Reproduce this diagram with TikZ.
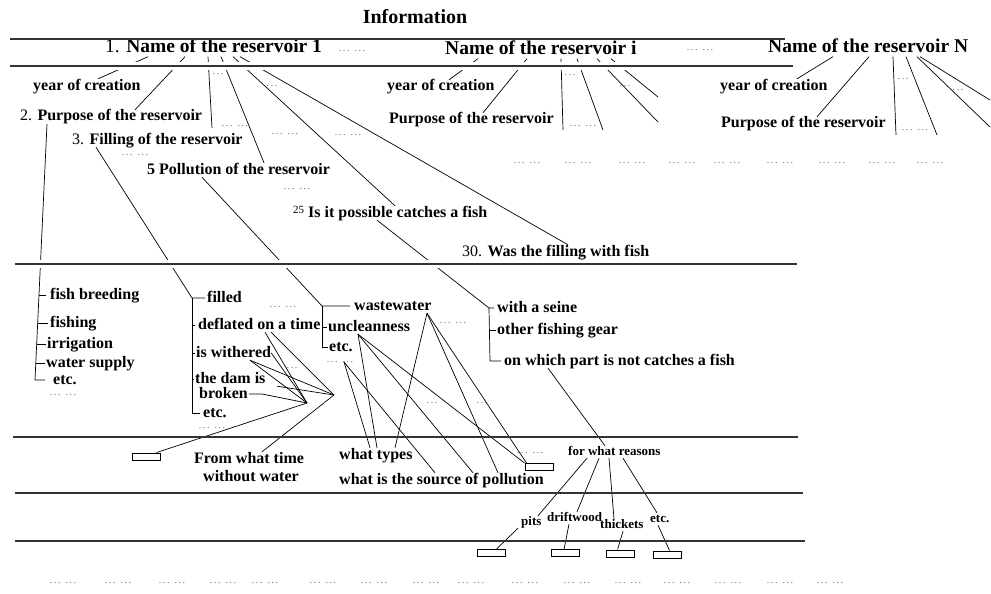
\documentclass[tikz,border=0pt]{standalone}
\usepackage{fontspec}
\setmainfont{Liberation Serif}
\newcommand{\tdot}{.\kern1.6pt.\kern1.6pt.}
\newcommand{\ttdot}{\tdot\kern5pt\tdot}
\begin{document}
\begin{tikzpicture}[x=1pt,y=-1pt,
  lab/.style={font=\fontsize{16}{18}\selectfont\bfseries, inner sep=0pt, anchor=west, text height=11pt, text depth=3pt},
  head/.style={font=\fontsize{19.5}{22}\selectfont\bfseries, inner sep=0pt, anchor=west, text height=13pt, text depth=4pt},
  sm/.style={font=\fontsize{13}{15}\selectfont\bfseries, inner sep=0pt, anchor=west, text height=9pt, text depth=3pt},
  dt/.style={font=\fontsize{10}{10}\selectfont, text=black!60, inner sep=0pt},
  rule/.style={line width=1.1pt, draw=black!80},
  con/.style={line width=0.7pt},
  box/.style={draw, line width=0.9pt, minimum width=28pt, minimum height=7pt, inner sep=0pt}]
\useasboundingbox (0,0) rectangle (991,594);
\fill[white] (0,0) rectangle (991,594);

% headings
\node[head, anchor=center, font=\fontsize{20}{22}\selectfont\bfseries] (info) at (415,19) {Information};
\node[head] (n1) at (105,48) {{\mdseries 1.} Name of the reservoir 1};
\node[head] (ni) at (445,50) {Name of the reservoir i};
\node[head] (nN) at (768,48) {Name of the reservoir N};

% second level
\node[lab] (yc1) at (33,86) {year of creation};
\node[lab] (p1) at (20,117) {{\mdseries 2.} Purpose of the reservoir};
\node[lab] (f1) at (72,140) {{\mdseries 3.} Filling of the reservoir};
\node[lab] (pol1) at (147,170) {5 Pollution of the reservoir};
\node[lab] (fish25) at (293,213) {{\mdseries\fontsize{11}{11}\selectfont\raisebox{4pt}{25}}\kern4pt Is it possible catches a fish};
\node[lab] (w30) at (462,252) {{\mdseries 30.} Was the filling with fish};
\node[lab] (yci) at (387,87) {year of creation};
\node[lab] (pi) at (389,120) {Purpose of the reservoir};
\node[lab] (ycN) at (720,86) {year of creation};
\node[lab] (pN) at (721,124) {Purpose of the reservoir};

% third level
\node[lab] (fb) at (50,295) {fish breeding};
\node[lab] (fsh) at (50,323) {fishing};
\node[lab] (irr) at (47,344) {irrigation};
\node[lab] (ws) at (46,363) {water supply};
\node[lab] (etc1) at (53,380) {etc.};
\node[lab] (filled) at (207,298) {filled};
\node[lab] (defl) at (198,325) {deflated on a time};
\node[lab] (withered) at (196,353) {is withered};
\node[lab] (dam) at (195,379) {the dam is};
\node[lab] (broken) at (199,394) {broken};
\node[lab] (etc2) at (203,413) {etc.};
\node[lab] (wastew) at (354,306) {wastewater};
\node[lab] (uncl) at (328,327) {uncleanness};
\node[lab] (etc3) at (329,347) {etc.};
\node[lab] (seine) at (497,308) {with a seine};
\node[lab] (gear) at (497,330) {other fishing gear};
\node[lab] (onwhich) at (504,361) {on which part is not catches a fish};

% fourth level
\node[lab, anchor=center] (from1) at (249,459) {From what time};
\node[lab, anchor=center] (from2) at (251,477) {without water};
\node[lab] (types) at (339,455) {what types};
\node[lab] (source) at (339,480) {what is the source of pollution};
\node[sm] (reasons) at (568,452) {for what reasons};
\node[sm] (pits) at (521,522) {pits};
\node[sm] (drift) at (547,518) {driftwood};
\node[sm] (thick) at (600,525) {thickets};
\node[sm] (etc4) at (650,519) {etc.};

% boxes
\node[box] (R0) at (146,456.5) {};
\node[box] (R1) at (539,467) {};
\node[box] (R2) at (491,553) {};
\node[box] (R3) at (565.5,553) {};
\node[box] (R4) at (620,553.5) {};
\node[box] (R5) at (667,554.5) {};

% dots
\node[dt] (dA) at (352,51) {\ttdot};
\node[dt] (dB) at (700,50) {\ttdot};
\node[dt] (dC) at (218,74) {\tdot};
\node[dt] (dD) at (235,126) {\ttdot};
\node[dt] (dE) at (272,86) {\tdot};
\node[dt] (dF) at (285,134) {\ttdot};
\node[dt] (dG) at (348,135) {\ttdot};
\node[dt] (dH) at (135,155) {\ttdot};
\node[dt] (dI) at (297,189) {\ttdot};
\node[dt] (dJ) at (570,75) {\tdot};
\node[dt] (dK) at (583,126) {\ttdot};
\node[dt] (dL) at (625,86) {\tdot};
\node[dt] (dM) at (903,79) {\tdot};
\node[dt] (dN) at (915,130) {\ttdot};
\node[dt] (dO) at (958,90) {\tdot};
\foreach \x [count=\i] in {527,578,632,682,727,780,832,882,930}
  \node[dt] (row\i) at (\x,163) {\ttdot};
\node[dt] (dP) at (63,395) {\ttdot};
\node[dt] (dQ) at (283,307) {\ttdot};
\node[dt] (dR) at (292,368) {\tdot};
\node[dt] (dS) at (212,428) {\ttdot};
\node[dt] (de) at (340,362) {\ttdot};
\node[dt] (dT) at (453,323) {\ttdot};
\node[dt] (dU) at (432,403) {\tdot};
\node[dt] (dV) at (482,403) {\tdot};
\node[dt] (dW) at (530,453) {\ttdot};
\foreach \x [count=\i] in {63,118,172,223,265,323,374,426,471,525,577,628,677,728,780,830}
  \node[dt] (bot\i) at (\x,583) {\ttdot};

% named free ends and junctions
\coordinate (v1) at (212,128);
\coordinate (vi1) at (563,130);
\coordinate (vi2) at (603,130);
\coordinate (vi3) at (658,122);
\coordinate (vi4) at (658,97);
\coordinate (vN1) at (896,135);
\coordinate (vN2) at (937,135);
\coordinate (vN3) at (990,127);
\coordinate (vN4) at (990,100);
\coordinate (c1) at (35,380);
\coordinate (P1) at (334,395);
\coordinate (P2) at (307,403);
\coordinate (W) at ([xshift=73pt]wastew.south west);
\coordinate (U) at ([xshift=30pt]uncl.south west);
\coordinate (E) at ([xshift=4pt]de.center);

% reservoir 1
\draw[con] ([xshift=43pt]n1.south west) -- ([xshift=65pt]yc1.north west);
\draw[con] ([xshift=80pt]n1.south west) -- ([xshift=115pt]p1.north west);
\draw[con] ([xshift=103pt]n1.south west) -- (v1);
\draw[con] ([xshift=116pt]n1.south west) -- ([xshift=117pt]pol1.north west);
\draw[con] ([xshift=128pt]n1.south west) -- ([xshift=102pt]fish25.north west);
\draw[con] ([xshift=135pt]n1.south west) -- ([xshift=106pt]w30.north west);
% reservoir i
\draw[con] ([xshift=33pt]ni.south west) -- ([xshift=62pt]yci.north west);
\draw[con] ([xshift=82pt]ni.south west) -- ([xshift=94pt]pi.north west);
\draw[con] ([xshift=116pt]ni.south west) -- (vi1);
\draw[con] ([xshift=132pt]ni.south west) -- (vi2);
\draw[con] ([xshift=152pt]ni.south west) -- (vi3);
\draw[con] ([xshift=166pt]ni.south west) -- (vi4);
% reservoir N
\draw[con] ([xshift=65pt]nN.south west) -- ([xshift=77pt]ycN.north west);
\draw[con] ([xshift=101pt]nN.south west) -- ([xshift=96pt]pN.north west);
\draw[con] ([xshift=125pt]nN.south west) -- (vN1);
\draw[con] ([xshift=138pt]nN.south west) -- (vN2);
\draw[con] ([xshift=149pt]nN.south west) -- (vN3);
\draw[con] ([xshift=152pt]nN.south west) -- (vN4);

% purpose bracket
\draw[con] ([xshift=27pt]p1.south west) -- (c1) -- ([xshift=-8pt]etc1.west);
\draw[con] ([xshift=-11pt]fb.west) -- ([xshift=-4pt]fb.west);
\draw[con] ([xshift=-12pt]fsh.west) -- ([xshift=-2pt]fsh.west);
\draw[con] ([xshift=-10pt]irr.west) -- ([xshift=-1pt]irr.west);
\draw[con] ([xshift=-10pt]ws.west) -- ([xshift=-1pt]ws.west);

% filling bracket
\draw[con] ([xshift=24pt]f1.south west) -- ([xshift=-15pt]filled.west) -- ([xshift=-2pt]filled.west);
\draw[con] ([xshift=-15pt]filled.west) -- ([xshift=-11pt]etc2.west) -- ([xshift=-3pt]etc2.west);
\draw[con] ([xshift=-6pt]defl.west) -- ([xshift=-3pt]defl.west);
\draw[con] ([xshift=-4pt]withered.west) -- ([xshift=-1pt]withered.west);
\draw[con] ([xshift=-3pt]dam.west) -- ([xshift=-1pt]dam.west);
\draw[con] ([xshift=1pt]broken.east) -- ([xshift=14pt]broken.east) -- (P2);
\draw[con] ([xshift=67pt]defl.south west) -- (P2);
\draw[con] ([xshift=73pt]defl.south west) -- (P1);
\draw[con] ([xshift=54pt]withered.south west) -- (P1);
\draw[con] ([xshift=54pt]withered.south west) -- (P2);
\draw[con] (withered.east) -- (P2);
\draw[con] ([xshift=82pt]dam.south west) -- (P1);
\draw[con] (P1) -- ([xshift=13pt]from1.north);
\draw[con] (P2) -- ([xshift=-4pt]R0.north east);

% pollution bracket
\draw[con] ([xshift=55pt]pol1.south west) -- ([xshift=-32pt]wastew.west) -- ([xshift=-4pt]wastew.west);
\draw[con] ([xshift=-32pt]wastew.west) -- ([xshift=-7pt]etc3.west) -- ([xshift=-1pt]etc3.west);
\draw[con] ([xshift=-6pt]uncl.west) -- ([xshift=-1pt]uncl.west);
\draw[con] (E) -- ([xshift=31pt]types.north west);
\draw[con] (U) -- ([xshift=38pt]types.north west);
\draw[con] (W) -- ([xshift=56pt]types.north west);
\draw[con] (E) -- ([xshift=96pt]source.north west);
\draw[con] (U) -- ([xshift=134pt]source.north west);
\draw[con] (W) -- ([xshift=159pt]source.north west);
\draw[con] (U) -- (R1.north west);
\draw[con] (W) -- ([xshift=2pt]R1.north west);

% fishing bracket
\draw[con] ([xshift=84pt]fish25.south west) -- ([xshift=-8pt]seine.west) -- ([xshift=-3pt]seine.west);
\draw[con] ([xshift=-8pt]seine.west) -- ([xshift=-14pt]onwhich.west) -- ([xshift=-3pt]onwhich.west);
\draw[con] ([xshift=-7pt]gear.west) -- ([xshift=-1pt]gear.west);
\draw[con] ([xshift=44pt]onwhich.south west) -- ([xshift=37pt]reasons.north west);

% reasons
\draw[con] ([xshift=19pt]reasons.south west) -- ([xshift=17pt]pits.north west);
\draw[con] ([xshift=31pt]reasons.south west) -- ([xshift=30pt]drift.north west);
\draw[con] ([xshift=41pt]reasons.south west) -- ([xshift=14pt]thick.north west);
\draw[con] ([xshift=55pt]reasons.south west) -- ([xshift=7pt]etc4.north west);
\draw[con] ([xshift=-3pt]pits.south west) -- ([xshift=20pt]R2.north west);
\draw[con] ([xshift=22pt]drift.south west) -- ([xshift=13pt]R3.north west);
\draw[con] ([xshift=23pt]thick.south west) -- ([xshift=12pt]R4.north west);
\draw[con] ([xshift=8pt]etc4.south west) -- ([xshift=17pt]R5.north west);

% gaps and rules
\fill[white] (10,62) rectangle (793,70);
\fill[white] (15,260) rectangle (798,268);
\draw[rule] (10,39) -- (785,39);
\draw[rule] (10,66) -- (793,66);
\draw[rule] (15,264) -- (797,264);
\draw[rule] (13,437) -- (798,437);
\draw[rule] (15,493) -- (803,493);
\draw[rule] (15,541) -- (805,541);
\end{tikzpicture}
\end{document}
